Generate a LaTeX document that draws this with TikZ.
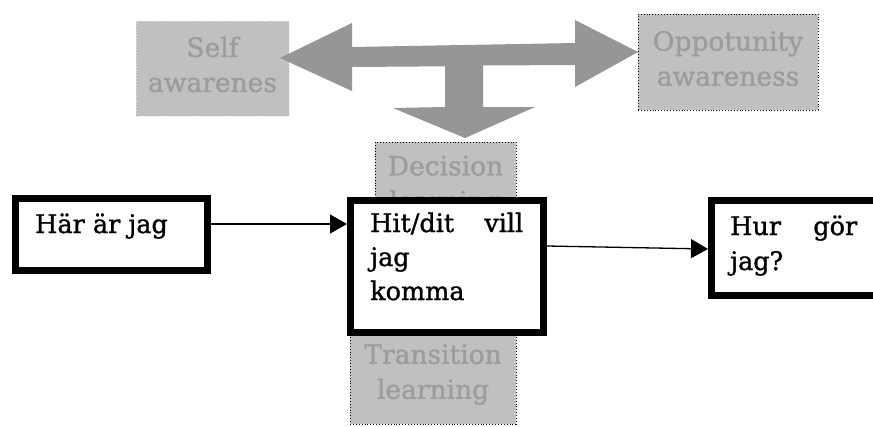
\documentclass[tikz,border=0pt]{standalone}
\usepackage{fontspec}
\setmainfont{DejaVu Serif}[FakeBold=1.2]
\usetikzlibrary{arrows.meta}
\definecolor{boxgray}{HTML}{C0C0C0}
\definecolor{arrgray}{HTML}{969696}
\definecolor{txtgray}{HTML}{9C9C9C}
\definecolor{lightline}{HTML}{E4E4E4}
\tikzset{
  graybox/.style={rectangle, fill=boxgray, draw=black, dotted, line width=0.9pt, inner sep=0pt},
  graytext/.style={text=txtgray, align=center, inner sep=0pt, font=\fontsize{26.5}{35}\selectfont},
  mainbox/.style={rectangle, fill=white, draw=black, line width=7pt, inner sep=0pt},
  maintext/.style={anchor=base west, inner sep=0pt, font=\fontsize{25.5}{30}\selectfont},
  conn/.style={line width=1.3pt, -{Triangle[length=17pt,width=19pt]}}
}
\begin{document}
\begin{tikzpicture}[x=1pt,y=-1pt]
\useasboundingbox (0,0) rectangle (873,426);
\clip (0,0) rectangle (873,426);
% background boxes
\node[graybox, draw=lightline, minimum width=153pt, minimum height=95pt] (self) at (212.5,68.5) {};
\node[graytext] (selft) at (212.5,64.5) {Self\\awarenes};
\node[graybox, minimum width=180pt, minimum height=96pt] (opp) at (728,62) {};
\node[graytext] (oppt) at (728,58.5) {Oppotunity\\awareness};
\node[graybox, minimum width=141pt, minimum height=98pt] (dec) at (445.5,191) {};
\node[graytext] (dect) at (445.5,186) {Decision\\learning};
\node[graybox, minimum width=166pt, minimum height=124pt] (trans) at (433,362) {};
\node[graytext] (transt) at (433,374.5) {Transition\\learning};
% big gray arrow
\fill[arrgray] (280,58) -- (352,23) -- (352,47) -- (575,43) -- (575,20) -- (638,52)
  -- (575,87) -- (575,65) -- (483,65.5) -- (483,107) -- (535,107) -- (465,138)
  -- (393,108) -- (445,107) -- (445,66.3) -- (352,67) -- (352,91) -- cycle;
% main boxes
\node[mainbox, minimum width=192pt, minimum height=72pt] (har) at (111.5,234.5) {};
\node[maintext] (hart) at (35,233) {Här är jag};
\node[mainbox, minimum width=193pt, minimum height=132pt] (goal) at (447,266.5) {};
\node[maintext] (goal1) at (370,232) {\makebox[153pt][s]{Hit/dit\hfill vill}};
\node[maintext] (goal2) at (370,266) {jag};
\node[maintext] (goal3) at (370,300) {komma};
\node[mainbox, minimum width=388pt, minimum height=95pt] (hur) at (905.5,248) {};
\node[maintext] (hur1) at (730,235) {\makebox[127pt][s]{Hur\hfill gör}};
\node[maintext] (hur2) at (730,270) {jag?};
% connectors
\draw[conn] ([yshift=10.5pt]har.east) -- ([yshift=42.5pt]goal.west);
\draw[conn] ([yshift=20.5pt]goal.east) -- ([yshift=-1pt]hur.west);
\end{tikzpicture}
\end{document}
